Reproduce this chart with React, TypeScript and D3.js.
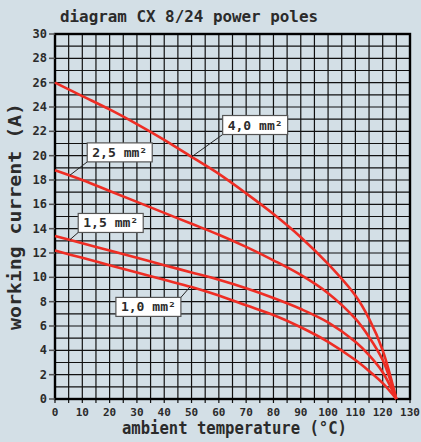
import { curveCatmullRom, line, range, scaleLinear, select } from 'd3'
import { useEffect, useRef } from 'react'

const temps = [0, 10, 20, 30, 40, 50, 60, 70, 80, 90, 100, 110, 115, 120, 125]
const current40 = [26, 24.9, 23.8, 22.6, 21.3, 19.9, 18.5, 16.9, 15.2, 13.3, 11.1, 8.5, 6.6, 4.0, 0]
const current25 = [18.8, 18.0, 17.1, 16.2, 15.3, 14.4, 13.5, 12.5, 11.4, 10.2, 8.7, 6.6, 5.1, 3.2, 0]
const current15 = [13.4, 12.8, 12.2, 11.6, 11.0, 10.4, 9.8, 9.1, 8.3, 7.4, 6.3, 4.7, 3.6, 2.2, 0]
const current10 = [12.2, 11.6, 11.0, 10.4, 9.8, 9.2, 8.5, 7.7, 6.9, 5.9, 4.7, 3.2, 2.3, 1.3, 0]

const xTicks = range(0, 131, 10)
const yTicks = range(0, 31, 2)
const xGrid = range(0, 131, 5)
const yGrid = range(0, 31, 1)

const title = 'diagram CX 8/24 power poles'
const xTitle = 'ambient temperature (°C)'
const yTitle = 'working current (A)'

// label boxes: top-left corner and leader end point in data units
const labelTexts = ['4,0 mm²', '2,5 mm²', '1,5 mm²', '1,0 mm²']
const labelBoxes = [
  [61.4, 23.3],
  [11.8, 21.05],
  [8.5, 15.25],
  [22.3, 8.35],
]
const labelPoints = [
  [50, 19.9],
  [5.5, 18.4],
  [5.5, 13.1],
  [49.4, 9.2],
]
const labelCorners = ['bl', 'bl', 'bl', 'tr']

const W = 421
const H = 442
const BG = '#d3dfe6'
const INK = '#2b2b2b'
const FONT = '"DejaVu Sans Mono", monospace'

export default function App() {
  const ref = useRef<SVGSVGElement>(null)

  useEffect(() => {
    if (!ref.current) return
    const svg = select(ref.current)
    svg.selectAll('*').remove()

    const x = scaleLinear().domain([0, 130]).range([55, 410])
    const y = scaleLinear().domain([0, 30]).range([399, 34])

    svg.append('rect').attr('width', W).attr('height', H).attr('fill', BG)

    // grid
    const grid = svg.append('g').attr('stroke', '#111').attr('stroke-width', 1.2)
    grid
      .selectAll('line.v')
      .data(xGrid)
      .join('line')
      .attr('class', 'v')
      .attr('x1', (d) => x(d))
      .attr('x2', (d) => x(d))
      .attr('y1', y(30))
      .attr('y2', y(0) + 4)
    grid
      .selectAll('line.h')
      .data(yGrid)
      .join('line')
      .attr('class', 'h')
      .attr('x1', x(0))
      .attr('x2', x(130))
      .attr('y1', (d) => y(d))
      .attr('y2', (d) => y(d))

    // frame
    svg
      .append('rect')
      .attr('x', x(0))
      .attr('y', y(30))
      .attr('width', x(130) - x(0))
      .attr('height', y(0) - y(30))
      .attr('fill', 'none')
      .attr('stroke', '#000')
      .attr('stroke-width', 2.4)

    // y ticks
    svg
      .append('g')
      .selectAll('line')
      .data(yTicks)
      .join('line')
      .attr('x1', x(0) - 6)
      .attr('x2', x(0))
      .attr('y1', (d) => y(d))
      .attr('y2', (d) => y(d))
      .attr('stroke', '#555')
      .attr('stroke-width', 1.5)
    svg
      .append('g')
      .selectAll('text')
      .data(yTicks)
      .join('text')
      .attr('x', x(0) - 8)
      .attr('y', (d) => y(d) + 4)
      .attr('text-anchor', 'end')
      .attr('font-family', FONT)
      .attr('font-weight', 'bold')
      .attr('font-size', 12)
      .attr('fill', INK)
      .text((d) => d)

    // x ticks
    svg
      .append('g')
      .selectAll('text')
      .data(xTicks)
      .join('text')
      .attr('x', (d) => x(d))
      .attr('y', y(0) + 17)
      .attr('text-anchor', 'middle')
      .attr('font-family', FONT)
      .attr('font-weight', 'bold')
      .attr('font-size', 11)
      .attr('fill', INK)
      .text((d) => d)

    // titles
    svg
      .append('text')
      .attr('x', 60)
      .attr('y', 22)
      .attr('font-family', FONT)
      .attr('font-weight', 'bold')
      .attr('font-size', 16)
      .attr('textLength', 258)
      .attr('lengthAdjust', 'spacingAndGlyphs')
      .attr('fill', INK)
      .text(title)
    svg
      .append('text')
      .attr('x', 122)
      .attr('y', 434)
      .attr('font-family', FONT)
      .attr('font-weight', 'bold')
      .attr('font-size', 17)
      .attr('textLength', 225)
      .attr('lengthAdjust', 'spacingAndGlyphs')
      .attr('fill', INK)
      .text(xTitle)
    svg
      .append('text')
      .attr('transform', 'translate(21, 330) rotate(-90)')
      .attr('font-family', FONT)
      .attr('font-weight', 'bold')
      .attr('font-size', 17)
      .attr('textLength', 227)
      .attr('lengthAdjust', 'spacingAndGlyphs')
      .attr('fill', INK)
      .text(yTitle)

    // curves
    const path = line<number>()
      .x((_, i) => x(temps[i]))
      .y((d) => y(d))
      .curve(curveCatmullRom.alpha(0.5))
    svg
      .append('g')
      .selectAll('path')
      .data([current40, current25, current15, current10])
      .join('path')
      .attr('d', (d) => path(d))
      .attr('fill', 'none')
      .attr('stroke', '#ee2d24')
      .attr('stroke-width', 2.6)

    // labels
    const boxW = 65
    const boxH = 19
    labelTexts.forEach((t, i) => {
      const bx = x(labelBoxes[i][0])
      const by = y(labelBoxes[i][1])
      const cx = labelCorners[i] === 'tr' ? bx + boxW : bx
      const cy = labelCorners[i] === 'tr' ? by : by + boxH
      svg
        .append('line')
        .attr('x1', cx)
        .attr('y1', cy)
        .attr('x2', x(labelPoints[i][0]))
        .attr('y2', y(labelPoints[i][1]))
        .attr('stroke', '#222')
        .attr('stroke-width', 1)
      svg
        .append('rect')
        .attr('x', bx)
        .attr('y', by)
        .attr('width', boxW)
        .attr('height', boxH)
        .attr('fill', '#fff')
        .attr('stroke', '#555')
        .attr('stroke-width', 1.2)
      svg
        .append('text')
        .attr('x', bx + 5)
        .attr('y', by + 14)
        .attr('font-family', FONT)
        .attr('font-weight', 'bold')
        .attr('font-size', 12.5)
        .attr('textLength', 55)
        .attr('lengthAdjust', 'spacingAndGlyphs')
        .attr('fill', INK)
        .text(t)
    })
  }, [])

  return (
    <svg
      ref={ref}
      width={W}
      height={H}
      style={{ position: 'absolute', left: 0, top: 0, display: 'block' }}
    />
  )
}
